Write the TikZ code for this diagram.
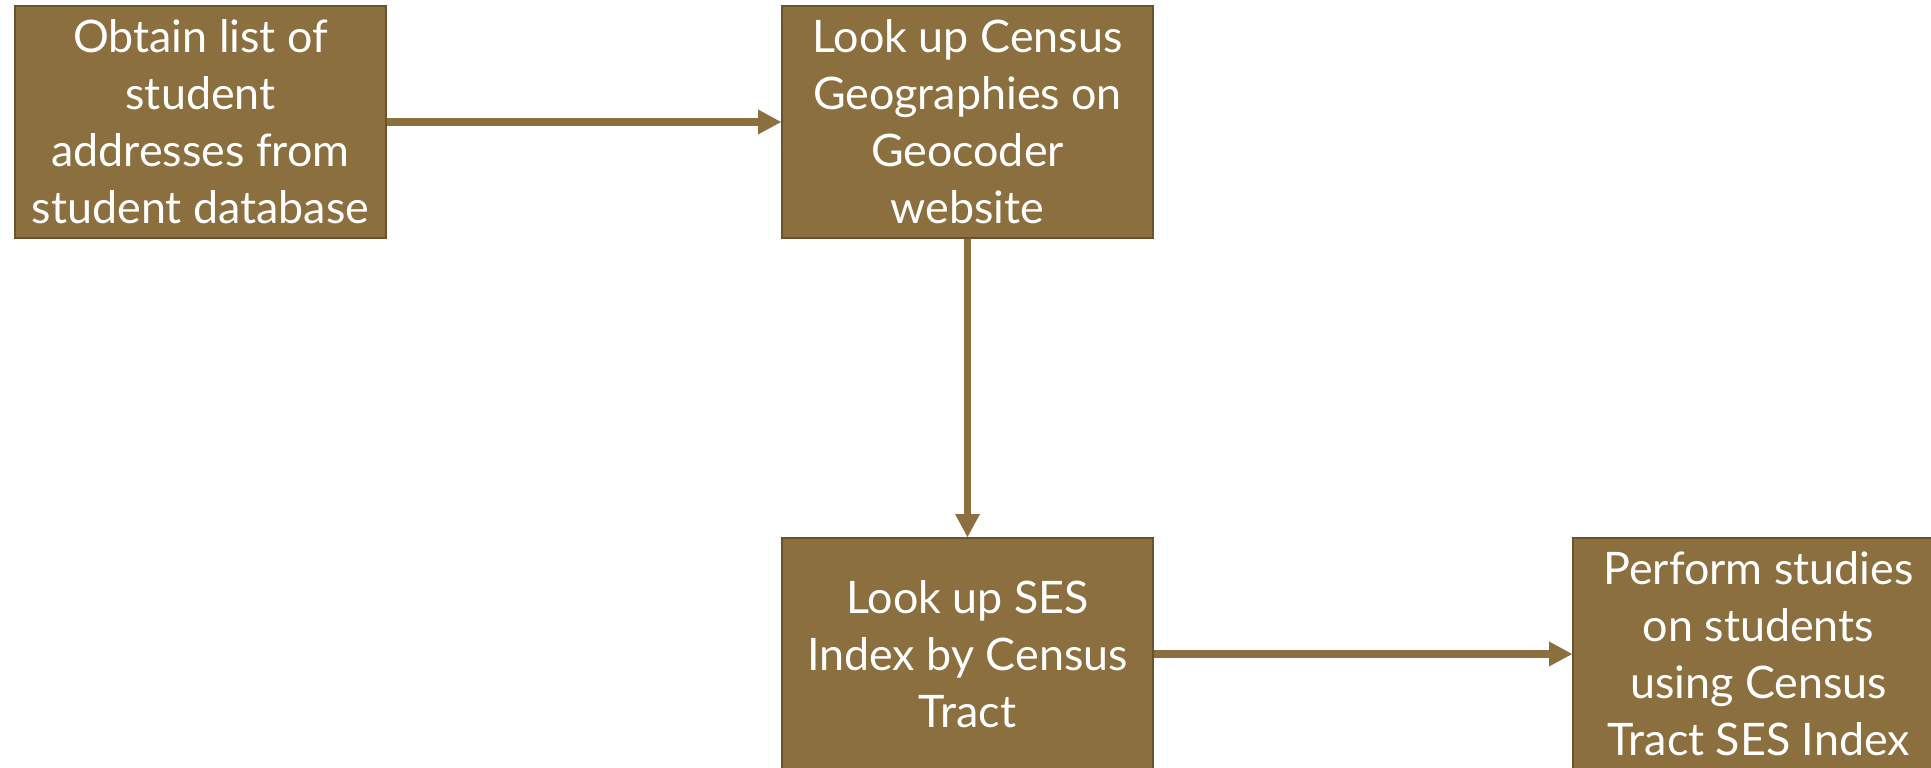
\documentclass[tikz,border=0pt]{standalone}
\usepackage{fontspec}
\setmainfont{Lato}
\usetikzlibrary{positioning,arrows.meta}

\definecolor{boxfill}{RGB}{140,111,62}
\definecolor{boxline}{RGB}{105,82,44}

\tikzset{
  stepbox/.style={rectangle, draw=boxline, line width=1.1pt, fill=boxfill,
    text=white, minimum width=7.42cm, minimum height=4.64cm, inner sep=0pt,
    align=center, font=\fontsize{25.5}{32.5}\selectfont},
  flow/.style={draw=boxfill, line width=4pt,
    -{Triangle[length=0.46cm, width=0.5cm, fill=boxfill, line width=0pt]}}
}

\begin{document}
\begin{tikzpicture}[node distance=2cm, on grid]
       \useasboundingbox (-4.01,2.44) rectangle (34.61,-12.92);
       \clip (-4.01,2.44) rectangle (34.61,-12.92);
       \node[stepbox] (obtain) {Obtain list of\\student\\addresses from\\student database};
       \node[stepbox] (lookup) [right=15.34cm of obtain] {Look up Census\\Geographies on\\Geocoder\\website};
       \node[stepbox] (ses) [below=10.64cm of lookup] {Look up SES\\Index by Census\\Tract};
       \node[stepbox] (perform) [right=15.82cm of ses] {Perform studies\\on students\\using Census\\Tract SES Index};
        \path[flow]
        		(obtain)	edge (lookup)
        		(lookup)	edge (ses)
        		(ses)		edge (perform);
    \end{tikzpicture}
\end{document}
